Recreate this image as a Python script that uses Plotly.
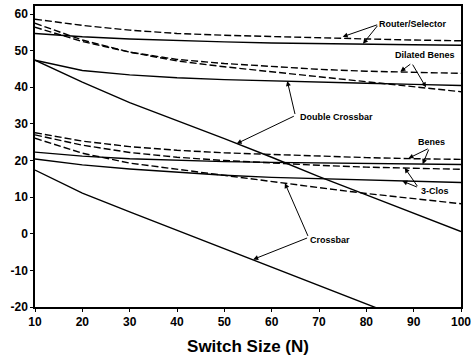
import plotly.graph_objects as go

# Switch size (N)
switch_size = [10, 20, 30, 40, 50, 60, 70, 80, 90, 100]

# Series values
router_dashed = [58.6, 56.9, 55.6, 54.7, 54.2, 53.8, 53.5, 53.2, 52.9, 52.7]
router_solid = [54.7, 53.8, 53.2, 52.7, 52.4, 52.1, 51.9, 51.8, 51.6, 51.5]
dilated_benes_a = [56.4, 52.5, 49.6, 47.6, 46.5, 45.6, 44.9, 44.4, 44.0, 43.8]
dilated_benes_b = [57.5, 52.9, 49.6, 47.2, 45.6, 44.2, 42.9, 41.5, 40.1, 38.8]
double_crossbar_upper = [47.4, 44.6, 43.4, 42.6, 42.1, 41.7, 41.4, 41.1, 40.8, 40.5]
double_crossbar_steep = [47.4, 41.4, 35.8, 31.0, 26.0, 20.9, 15.6, 10.6, 5.6, 0.6]
benes_dashed = [27.6, 25.3, 23.8, 22.8, 22.1, 21.6, 21.1, 20.8, 20.5, 20.3]
benes_solid = [22.3, 21.2, 20.5, 20.0, 19.7, 19.5, 19.3, 19.1, 19.0, 18.9]
clos_dashed = [27.0, 24.2, 22.2, 20.9, 20.0, 19.3, 18.7, 18.2, 17.9, 17.6]
clos_solid = [20.4, 18.8, 17.7, 16.8, 16.0, 15.4, 15.0, 14.6, 14.3, 14.0]
crossbar_dashed = [26.1, 22.0, 19.3, 17.6, 16.0, 14.2, 12.6, 11.0, 9.6, 8.2]
crossbar_solid = [17.4, 11.1, 6.0, 1.0, -4.1, -9.1, -14.1, -19.2, -24.2, -29.3]

x_ticks = [10, 20, 30, 40, 50, 60, 70, 80, 90, 100]
y_ticks = [-20, -10, 0, 10, 20, 30, 40, 50, 60]

series = [
    (router_dashed, "dash"), (router_solid, "solid"),
    (dilated_benes_a, "dash"), (dilated_benes_b, "dash"),
    (double_crossbar_upper, "solid"), (double_crossbar_steep, "solid"),
    (benes_dashed, "dash"), (benes_solid, "solid"),
    (clos_dashed, "dash"), (clos_solid, "solid"),
    (crossbar_dashed, "dash"), (crossbar_solid, "solid"),
]

fig = go.Figure()
for vals, style in series:
    fig.add_trace(go.Scatter(
        x=switch_size, y=vals, mode="lines",
        line=dict(color="black", width=1.4,
                  dash="7px,3px" if style == "dash" else "solid"),
        showlegend=False, hoverinfo="skip"))

# Labels: (text, text_x, text_y, tail_x, tail_y, [tips])
labels = [
    ("Router/Selector", 89.9, 57.4, 82.6, 57.2, [(75.0, 53.8), (79.3, 51.9)]),
    ("Dilated Benes", 92.4, 48.8, 89.6, 46.6, [(87.2, 44.3), (92.6, 40.0)]),
    ("Double Crossbar", 73.6, 32.0, 65.0, 32.3, [(63.3, 41.7), (52.6, 24.6)]),
    ("Benes", 93.7, 25.1, 93.3, 23.4, [(88.9, 20.6), (91.9, 19.0)]),
    ("3-Clos", 94.6, 11.8, 91.0, 12.6, [(88.1, 18.0), (87.6, 14.4)]),
    ("Crossbar", 72.4, -1.6, 67.8, -1.0, [(62.8, 13.8), (56.1, -7.0)]),
]

for text, tx, ty, ax, ay, tips in labels:
    fig.add_annotation(x=tx, y=ty, text="<b>%s</b>" % text, showarrow=False,
                       font=dict(family="Liberation Sans", size=9, color="black"),
                       xanchor="center", yanchor="middle")
    for (px, py) in tips:
        fig.add_annotation(x=px, y=py, ax=ax, ay=ay, axref="x", ayref="y",
                           text="", showarrow=True, arrowhead=2, arrowsize=1,
                           arrowwidth=1, arrowcolor="black", standoff=0,
                           startstandoff=0)

fig.update_layout(
    width=471, height=359,
    margin=dict(l=35, r=10, t=6, b=52),
    paper_bgcolor="white", plot_bgcolor="white",
    font=dict(family="Liberation Sans", color="black"),
    xaxis=dict(range=[10, 100], tickvals=x_ticks,
               ticktext=["<b>%d</b>" % v for v in x_ticks],
               tickfont=dict(size=12), ticks="outside", ticklen=3,
               ticklabeloverflow="allow", automargin=False,
               tickcolor="black", showline=True, linecolor="black",
               linewidth=1.5, mirror=True, showgrid=False, zeroline=False,
               title=dict(text="<b>Switch Size (N)</b>", font=dict(size=17),
                          standoff=12)),
    yaxis=dict(range=[-20, 62.2], tickvals=y_ticks,
               ticktext=["<b>%d</b>" % v for v in y_ticks],
               tickfont=dict(size=12), ticks="outside", ticklen=3,
               ticklabeloverflow="allow", automargin=False,
               tickcolor="black", showline=True, linecolor="black",
               linewidth=1.5, mirror=True, showgrid=False, zeroline=False),
)

fig.write_html("out.html")
